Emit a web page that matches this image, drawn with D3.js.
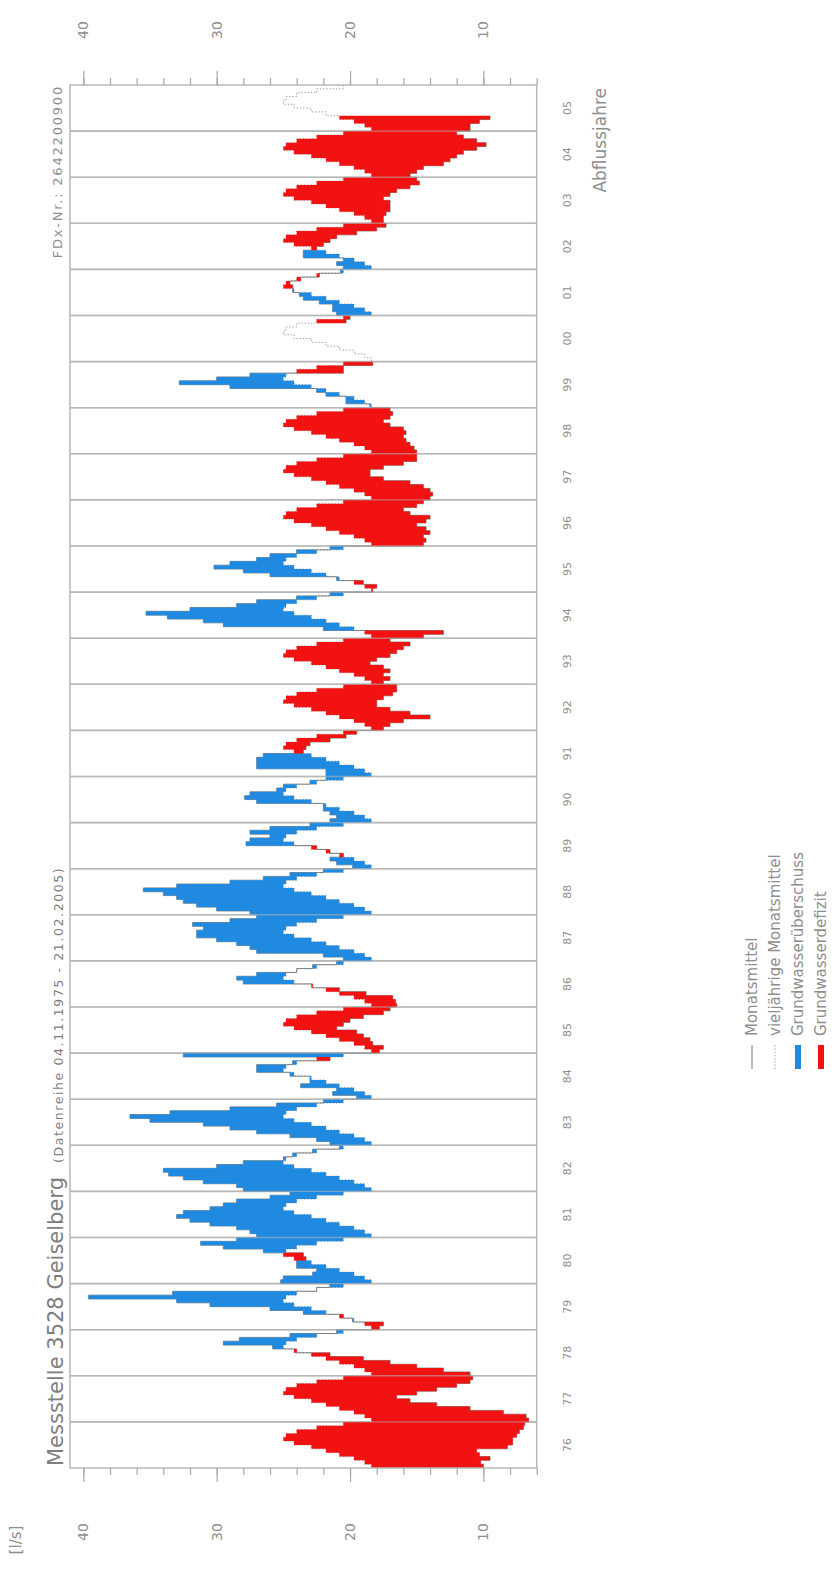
<!DOCTYPE html>
<html><head><meta charset="utf-8">
<script src="https://cdn.jsdelivr.net/npm/d3@7"></script>
<style>
html,body{margin:0;padding:0;background:#fff;}
svg{display:block;}
text{font-family:"DejaVu Sans",sans-serif;}
</style></head><body>
<svg id="chart" width="833" height="1576"></svg>
<script>
// ---------- data ----------
const yearLabels = ["76","77","78","79","80","81","82","83","84","85","86","87","88","89","90",
  "91","92","93","94","95","96","97","98","99","00","01","02","03","04","05"];
// long-term monthly mean (vieljährige Monatsmittel), Nov..Oct, l/s
const ltm = [18.4, 18.9, 19.7, 20.8, 21.8, 22.9, 24.2, 25.0, 24.8, 24.0, 22.5, 20.5];
// monthly means (Monatsmittel), hydrological years (Nov..Oct), l/s
const monthly1976_1985 = [
  10.0,10.2,9.5,10.3,10.5,8.2,7.8,7.8,7.5,7.3,7.0,6.9,
  6.6,6.8,8.5,11.0,13.5,15.5,16.5,15.0,13.5,12.0,11.0,10.8,
  11.0,13.0,15.0,17.0,19.0,21.5,24.0,25.8,29.5,28.3,24.5,21.0,
  17.8,17.5,19.8,20.5,23.5,26.0,30.5,33.0,39.6,33.3,22.5,21.5,
  25.2,25.0,22.8,22.5,24.0,24.0,23.3,23.5,26.5,29.5,31.2,28.5,
  27.0,27.5,28.5,30.5,32.0,33.0,32.5,30.5,29.5,28.5,26.0,24.5,
  28.0,28.5,31.0,32.5,33.6,34.0,30.0,28.0,25.0,24.3,22.8,20.8,
  21.5,22.5,24.5,27.0,29.0,31.0,35.0,36.5,33.5,29.0,25.5,22.0,
  19.5,21.3,21.0,23.7,23.0,23.0,24.5,27.0,27.0,24.3,21.5,32.5,
  17.8,17.5,18.3,18.5,19.0,19.5,21.0,20.5,20.0,19.0,17.5,17.0];
const monthly1986_1995 = [
  16.5,16.6,16.8,18.8,20.8,22.8,28.0,28.5,27.0,24.0,22.8,21.0,
  20.5,22.0,27.0,27.5,28.5,30.0,31.5,31.5,31.0,31.8,29.0,27.0,
  27.5,30.0,31.5,32.5,33.0,34.0,35.5,33.0,29.0,26.5,24.5,22.0,
  19.8,21.0,21.5,20.5,21.5,22.5,27.8,27.5,26.0,27.5,26.0,23.0,
  21.5,21.0,21.5,22.0,22.0,27.0,27.9,27.5,25.5,25.0,23.0,21.8,
  21.8,21.8,27.0,27.0,27.0,26.5,23.5,23.3,23.0,21.5,20.3,19.5,
  17.5,17.0,16.0,14.0,15.5,17.0,18.0,18.0,17.5,16.8,16.5,16.5,
  17.5,17.0,17.5,17.0,17.5,18.5,18.0,17.0,16.5,16.0,15.5,17.0,
  14.5,13.0,22.0,29.5,31.0,33.7,35.3,32.0,28.5,27.0,24.0,21.5,
  18.3,18.0,19.0,21.0,26.0,28.0,30.2,29.0,27.0,26.0,24.0,21.5];
const monthly1996_2005 = [
  14.5,14.3,14.5,14.0,14.3,15.0,14.3,14.0,15.5,16.0,15.0,14.5,
  14.0,13.8,14.0,14.5,15.5,17.5,18.5,18.5,17.5,16.0,15.0,15.0,
  15.0,15.2,15.5,15.8,16.0,15.8,16.0,17.0,17.5,17.0,16.8,17.0,
  18.5,20.3,20.3,21.8,22.5,29.0,32.8,30.0,27.5,20.5,20.5,18.3,
  null,null,null,null,null,null,null,null,null,null,20.3,20.0,
  21.0,21.3,21.3,22.3,23.5,23.8,24.3,24.3,24.5,23.7,22.3,20.7,
  20.5,21.0,20.5,23.5,23.5,22.5,22.0,21.5,21.0,19.5,18.0,17.3,
  17.5,17.5,17.3,17.0,17.0,17.0,17.5,17.0,16.5,15.5,14.8,15.0,
  15.5,15.0,14.5,13.0,12.5,12.0,11.5,10.5,9.8,10.5,11.5,12.0,
  11.0,11.0,10.3,9.5];
const majorTicks = [40, 30, 20, 10];
const minorTicks = d3.range(40, 5, -2);
const legendLabels = ["Monatsmittel", "vieljährige Monatsmittel", "Grundwasserüberschuss", "Grundwasserdefizit"];
const titleText = "Messstelle 3528 Geiselberg";
const subtitleText = "(Datenreihe 04.11.1975  -  21.02.2005)";
const stationText = "FDx-Nr.: 2642200900";
const xTitle = "Abflussjahre";
const unitText = "[l/s]";

// ---------- drawing (chart built unrotated, then turned 90° ccw) ----------
const BLUE = "#1f8ae0", RED = "#f21212", GRID = "#b8b8b8", TXT = "#8e8e8e";
const svg = d3.select("#chart");
const g = svg.append("g").attr("transform", "translate(0,1576) rotate(-90)");

const nMonths = yearLabels.length * 12;
const x = d3.scaleLinear().domain([0, nMonths]).range([108, 1491]);
const y = d3.scaleLinear().domain([41, 6]).range([70, 536.7]);

const monthly = [].concat(monthly1976_1985, monthly1986_1995, monthly1996_2005);
const pts = monthly.map((m, i) => ({i, m, l: ltm[i % 12]}));
const segs = []; let cur = null;
pts.forEach(p => {
  if (p.m == null) { cur = null; return; }
  if (!cur) { cur = []; segs.push(cur); }
  cur.push(p);
});
segs.forEach(s => { const last = s[s.length - 1]; s.push({i: last.i + 1, m: last.m, l: last.l}); });

// frame background
g.append("rect").attr("x", x(0)).attr("y", y(41))
  .attr("width", x(nMonths) - x(0)).attr("height", y(6) - y(41))
  .attr("fill", "#fff");

// year grid lines
g.selectAll("line.grid").data(d3.range(1, yearLabels.length)).join("line")
  .attr("class", "grid")
  .attr("x1", d => x(d * 12)).attr("x2", d => x(d * 12))
  .attr("y1", y(41)).attr("y2", y(6))
  .attr("stroke", GRID).attr("stroke-width", 1.6);

// long-term mean dotted line
const ltmPts = d3.range(nMonths + 1).map(i => ({i, l: ltm[Math.min(i, nMonths - 1) % 12]}));
g.append("path").attr("d", d3.line().curve(d3.curveStepAfter).x(d => x(d.i)).y(d => y(d.l))(ltmPts))
  .attr("fill", "none").attr("stroke", "#9a9a9a").attr("stroke-width", 1)
  .attr("stroke-dasharray", "1.3,1.9");

// monthly mean line (under the fills; shows where monthly ~ long-term mean)
const mLine = d3.line().curve(d3.curveStepAfter).x(d => x(d.i)).y(d => y(d.m));
segs.forEach(s => {
  g.append("path").attr("d", mLine(s)).attr("fill", "none")
    .attr("stroke", "#666").attr("stroke-width", 0.8);
});

// surplus / deficit areas
const areaOver = d3.area().curve(d3.curveStepAfter).x(d => x(d.i))
  .y0(d => y(d.l)).y1(d => y(Math.max(d.m, d.l)));
const areaUnder = d3.area().curve(d3.curveStepAfter).x(d => x(d.i))
  .y0(d => y(d.l)).y1(d => y(Math.min(d.m, d.l)));
segs.forEach(s => {
  g.append("path").attr("d", areaOver(s)).attr("fill", BLUE);
  g.append("path").attr("d", areaUnder(s)).attr("fill", RED);
});

// grid lines again, faint, over the fills
g.selectAll("line.grid2").data(d3.range(1, yearLabels.length)).join("line")
  .attr("class", "grid2")
  .attr("x1", d => x(d * 12)).attr("x2", d => x(d * 12))
  .attr("y1", y(41)).attr("y2", y(6))
  .attr("stroke", GRID).attr("stroke-opacity", 0.55).attr("stroke-width", 1.4);

// frame on top
g.append("rect").attr("x", x(0)).attr("y", y(41))
  .attr("width", x(nMonths) - x(0)).attr("height", y(6) - y(41))
  .attr("fill", "none").attr("stroke", GRID).attr("stroke-width", 1.5);

// value axes (left + right in unrotated frame)
function styleAxis(sel) {
  sel.select(".domain").remove();
  sel.selectAll("line").attr("stroke", "#a8a8a8").attr("stroke-width", 1.2);
}
g.append("g").attr("transform", `translate(${x(0)},0)`)
  .call(d3.axisLeft(y).tickValues(minorTicks).tickSize(7).tickFormat("")).call(styleAxis);
g.append("g").attr("transform", `translate(${x(0)},0)`)
  .call(d3.axisLeft(y).tickValues(majorTicks).tickSize(14).tickFormat("")).call(styleAxis);
g.append("g").attr("transform", `translate(${x(nMonths)},0)`)
  .call(d3.axisRight(y).tickValues(minorTicks).tickSize(7).tickFormat("")).call(styleAxis);
g.append("g").attr("transform", `translate(${x(nMonths)},0)`)
  .call(d3.axisRight(y).tickValues(majorTicks).tickSize(14).tickFormat("")).call(styleAxis);

[44, 1546].forEach(u => {
  g.selectAll(null).data(majorTicks).join("text")
    .attr("x", u).attr("y", d => y(d)).attr("text-anchor", "middle")
    .attr("dominant-baseline", "central").attr("font-size", 14).attr("fill", TXT)
    .text(d => d);
});
g.append("text").attr("x", 36).attr("y", 16).attr("text-anchor", "middle")
  .attr("dominant-baseline", "central").attr("font-size", 15).attr("fill", TXT).text(unitText);

// year labels
g.selectAll("text.yr").data(yearLabels).join("text").attr("class", "yr")
  .attr("x", (d, k) => x(k * 12 + 6)).attr("y", 567)
  .attr("text-anchor", "middle").attr("dominant-baseline", "central")
  .attr("font-size", 11).attr("fill", TXT).text(d => d);
g.append("text").attr("x", x(nMonths) - 3).attr("y", 600).attr("text-anchor", "end")
  .attr("dominant-baseline", "central").attr("font-size", 17).attr("fill", TXT).text(xTitle);

// title
const t = g.append("text").attr("x", x(0) + 2).attr("y", 63).attr("fill", "#7e7e7e");
t.append("tspan").attr("font-size", 21).text(titleText);
t.append("tspan").attr("font-size", 12.5).attr("dx", 14).attr("letter-spacing", 1.6).text(subtitleText);
g.append("text").attr("x", x(nMonths)).attr("y", 62).attr("text-anchor", "end")
  .attr("font-size", 13).attr("letter-spacing", 1.8).attr("fill", TXT).text(stationText);

// legend
const lg = g.append("g");
const rows = [752, 775, 798, 821];
const u0 = 507, u1 = 531;
lg.append("line").attr("x1", u0).attr("x2", u1).attr("y1", rows[0]).attr("y2", rows[0])
  .attr("stroke", "#777").attr("stroke-width", 1);
lg.append("line").attr("x1", u0).attr("x2", u1).attr("y1", rows[1]).attr("y2", rows[1])
  .attr("stroke", "#999").attr("stroke-width", 1).attr("stroke-dasharray", "1.3,1.9");
lg.append("line").attr("x1", u0).attr("x2", u1).attr("y1", rows[2]).attr("y2", rows[2])
  .attr("stroke", BLUE).attr("stroke-width", 6);
lg.append("line").attr("x1", u0).attr("x2", u1).attr("y1", rows[3]).attr("y2", rows[3])
  .attr("stroke", RED).attr("stroke-width", 6);
lg.selectAll("text").data(legendLabels).join("text")
  .attr("x", 540).attr("y", (d, i) => rows[i]).attr("dominant-baseline", "central")
  .attr("font-size", 15).attr("fill", TXT).text(d => d);
</script>
</body></html>
